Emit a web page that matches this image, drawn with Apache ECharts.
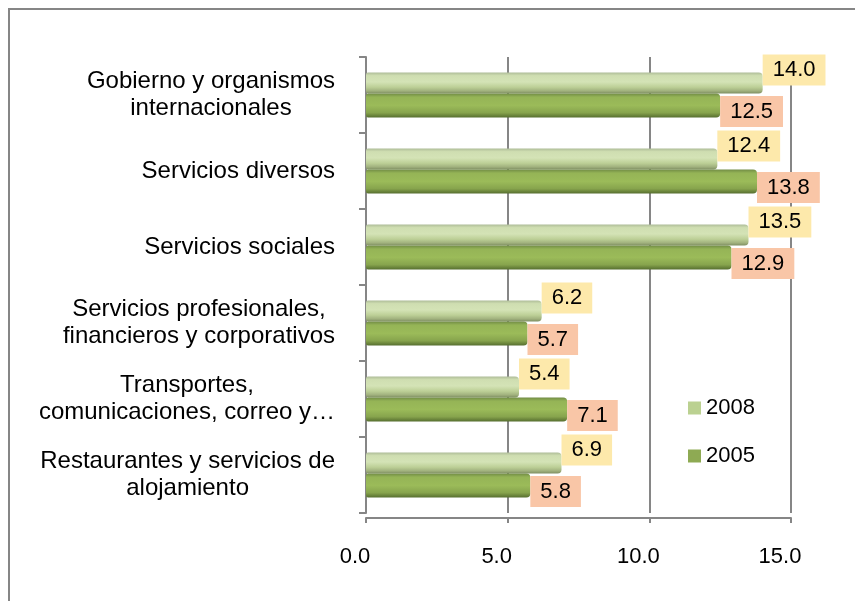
<!DOCTYPE html>
<html>
<head>
<meta charset="utf-8">
<script src="https://cdn.jsdelivr.net/npm/echarts@6/dist/echarts.min.js"></script>
<style>
  html, body { margin: 0; padding: 0; background: #fff; }
  #chart { width: 855px; height: 601px; }
</style>
</head>
<body>
<div id="chart"></div>
<script>
// datos del gráfico
const categories = [
    'Gobierno y organismos\ninternacionales',
    'Servicios diversos',
    'Servicios sociales',
    'Servicios profesionales,\nfinancieros y corporativos',
    'Transportes,\ncomunicaciones, correo y…',
    'Restaurantes y servicios de\nalojamiento'
];
const seriesNames = ['2008', '2005'];
const values2008 = [14.0, 12.4, 13.5, 6.2, 5.4, 6.9];
const values2005 = [12.5, 13.8, 12.9, 5.7, 7.1, 5.8];
const xTicks = { min: 0, max: 15, interval: 5 };

const FONT = '"Liberation Sans", Arial, sans-serif';
const GRAY = '#868686';

// degradados para imitar el cilindro
const lightGrad = new echarts.graphic.LinearGradient(0, 0, 0, 1, [
    { offset: 0, color: '#aebc98' },
    { offset: 0.15, color: '#cfdeb1' },
    { offset: 0.45, color: '#d4e3b6' },
    { offset: 0.7, color: '#bccf96' },
    { offset: 0.87, color: '#a2b27f' },
    { offset: 1, color: '#7f8f62' }
]);
const darkGrad = new echarts.graphic.LinearGradient(0, 0, 0, 1, [
    { offset: 0, color: '#718c45' },
    { offset: 0.15, color: '#95b456' },
    { offset: 0.5, color: '#9bbb59' },
    { offset: 0.8, color: '#87a44d' },
    { offset: 1, color: '#566e2f' }
]);

const chart = echarts.init(document.getElementById('chart'));
chart.setOption({
    animation: false,
    textStyle: { fontFamily: FONT },
    graphic: [{
        type: 'rect',
        shape: { x: 9, y: 9, width: 900, height: 700 },
        style: { fill: 'none', stroke: GRAY, lineWidth: 2 },
        silent: true
    }],
    grid: {
        left: 366,
        top: 57,
        width: 425,
        height: 456
    },
    legend: {
        orient: 'vertical',
        left: 688,
        top: 397,
        padding: 0,
        itemWidth: 13,
        itemHeight: 13,
        itemGap: 26,
        icon: 'rect',
        textStyle: { fontSize: 22, color: '#000', fontFamily: FONT },
        data: [
            { name: seriesNames[0], itemStyle: { color: '#bbd191' } },
            { name: seriesNames[1], itemStyle: { color: '#8eaa53' } }
        ]
    },
    xAxis: {
        type: 'value',
        min: xTicks.min,
        max: xTicks.max,
        interval: xTicks.interval,
        offset: 5,
        axisLine: { show: true, lineStyle: { color: GRAY, width: 2 } },
        axisTick: { show: true, length: 5, lineStyle: { color: GRAY, width: 2 } },
        splitLine: { show: true, lineStyle: { color: GRAY, width: 2 } },
        axisLabel: {
            fontSize: 22,
            color: '#000',
            margin: 28,
            padding: [0, 22, 0, 0],
            formatter: v => v.toFixed(1)
        }
    },
    yAxis: {
        type: 'category',
        inverse: true,
        data: categories,
        offset: 7,
        axisLine: { show: true, lineStyle: { color: GRAY, width: 2 } },
        axisTick: { show: true, length: 7, lineStyle: { color: GRAY, width: 2 } },
        axisLabel: {
            margin: 24,
            color: '#000',
            fontSize: 24,
            formatter: v => v.split('\n').map(s => '{c|' + s + '}').join('\n'),
            rich: {
                c: { align: 'center', fontSize: 24, lineHeight: 27, color: '#000', fontFamily: FONT }
            }
        }
    },
    series: [
        {
            name: seriesNames[0],
            type: 'bar',
            data: values2008,
            barWidth: 21,
            barGap: '0%',
            itemStyle: { color: lightGrad, borderRadius: [2, 4, 4, 2] },
            label: {
                show: true,
                position: 'right',
                distance: 0,
                offset: [0, -13],
                formatter: p => p.value.toFixed(1),
                fontSize: 22,
                color: '#000',
                backgroundColor: '#fde9ab',
                padding: [5, 10, 4, 10]
            }
        },
        {
            name: seriesNames[1],
            type: 'bar',
            data: values2005,
            barWidth: 24,
            barGap: '0%',
            itemStyle: { color: darkGrad, borderRadius: [2, 4, 4, 2] },
            label: {
                show: true,
                position: 'right',
                distance: 0,
                offset: [0, 6],
                formatter: p => p.value.toFixed(1),
                fontSize: 22,
                color: '#000',
                backgroundColor: '#f9c6a7',
                padding: [5, 10, 4, 10]
            }
        }
    ]
});
</script>
</body>
</html>
